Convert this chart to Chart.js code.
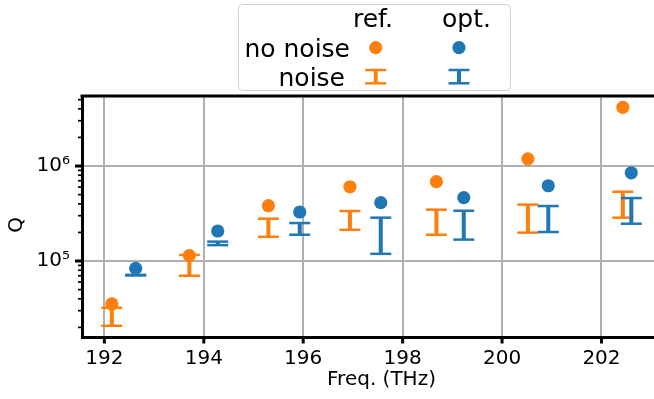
<!DOCTYPE html>
<html>
<head>
<meta charset="utf-8">
<title>Q vs frequency</title>
<script src="https://cdn.jsdelivr.net/npm/chart.js@4"></script>
<style>
  html, body { margin: 0; padding: 0; background: #fff; overflow: hidden; }
  #wrap { width: 654px; height: 399px; overflow: hidden; }
</style>
</head>
<body>
<div id="wrap"><canvas id="qChart" width="700" height="399"></canvas></div>
<script>
// frequencies (THz)
const freqRef = [192.15, 193.71, 195.30, 196.94, 198.68, 200.52, 202.43];
const freqOpt = [192.63, 194.28, 195.93, 197.56, 199.23, 200.93, 202.60];

// Q without noise
const qRefNoNoise = [3.53e4, 1.14e5, 3.82e5, 6.05e5, 6.84e5, 1.19e6, 4.15e6];
const qOptNoNoise = [8.38e4, 2.07e5, 3.28e5, 4.11e5, 4.64e5, 6.2e5, 8.49e5];

// Q with noise (low / high ends of the error bars)
const qRefNoiseLow  = [2.08e4, 7.0e4, 1.8e5, 2.13e5, 1.89e5, 1.99e5, 2.86e5];
const qRefNoiseHigh = [3.22e4, 1.16e5, 2.79e5, 3.36e5, 3.47e5, 3.92e5, 5.36e5];
const qOptNoiseLow  = [7.05e4, 1.47e5, 1.89e5, 1.19e5, 1.68e5, 2.02e5, 2.47e5];
const qOptNoiseHigh = [7.15e4, 1.6e5, 2.51e5, 2.86e5, 3.38e5, 3.79e5, 4.6e5];

// axes
const xTicks = [192, 194, 196, 198, 200, 202];
const yMajor = [1e5, 1e6];
const yTickLabels = ['10⁵', '10⁶'];

const ORANGE = '#ff7f0e';
const BLUE = '#1f77b4';
const GRID = '#b0b0b0';

Chart.defaults.font.family = '"DejaVu Sans", sans-serif';
Chart.defaults.color = '#000';

// vertical part of the error bars, broken by null points
function stems(xs, lo, hi) {
  const pts = [];
  xs.forEach((x, i) => {
    pts.push({ x: x, y: lo[i] }, { x: x, y: hi[i] }, { x: x, y: null });
  });
  return pts;
}

// caps of the error bars
function caps(xs, lo, hi) {
  const pts = [];
  xs.forEach((x, i) => {
    pts.push({ x: x, y: lo[i] }, { x: x, y: hi[i] });
  });
  return pts;
}

function line(ctx, x1, y1, x2, y2) {
  ctx.beginPath();
  ctx.moveTo(x1, y1);
  ctx.lineTo(x2, y2);
  ctx.stroke();
}

// top spine, tick marks, y label and the table legend
const decorPlugin = {
  id: 'decor',
  afterDraw(chart) {
    const { ctx, chartArea: a, scales } = chart;
    const x = scales.x, y = scales.y;
    ctx.save();
    ctx.strokeStyle = '#000';
    ctx.lineCap = 'butt';

    ctx.lineWidth = 3;
    line(ctx, a.left - 1.5, a.top, a.right, a.top);

    xTicks.forEach(v => {
      const px = x.getPixelForValue(v);
      line(ctx, px, a.bottom, px, a.bottom + 6.5);
    });

    y.ticks.forEach(t => {
      const py = y.getPixelForValue(t.value);
      if (py < a.top + 1 || py > a.bottom - 1) return;
      const major = yMajor.includes(t.value);
      ctx.lineWidth = major ? 3 : 1.7;
      line(ctx, a.left - (major ? 7 : 4), py, a.left, py);
    });

    // y axis label
    ctx.fillStyle = '#000';
    ctx.font = '20px "DejaVu Sans"';
    ctx.save();
    ctx.translate(17, 225);
    ctx.rotate(-Math.PI / 2);
    ctx.textAlign = 'center';
    ctx.textBaseline = 'middle';
    ctx.fillText('Q', 0, 0);
    ctx.restore();

    // legend
    ctx.fillStyle = 'rgba(255,255,255,0.8)';
    ctx.strokeStyle = '#d0d0d0';
    ctx.lineWidth = 1;
    ctx.beginPath();
    ctx.roundRect(238.5, 4.5, 272, 86, 4);
    ctx.fill();
    ctx.stroke();

    ctx.fillStyle = '#000';
    ctx.font = '25px "DejaVu Sans"';
    ctx.textBaseline = 'alphabetic';
    ctx.textAlign = 'left';
    ctx.fillText('ref.', 353, 27);
    ctx.fillText('opt.', 442, 27);
    ctx.textAlign = 'right';
    ctx.fillText('no noise', 350, 57);
    ctx.fillText('noise', 345, 86);

    [[375.7, ORANGE], [459, BLUE]].forEach(([cx, col]) => {
      ctx.fillStyle = col;
      ctx.beginPath();
      ctx.arc(cx, 47.7, 6.6, 0, Math.PI * 2);
      ctx.fill();
      ctx.strokeStyle = col;
      ctx.lineWidth = 4;
      line(ctx, cx, 70, cx, 83.3);
      ctx.lineWidth = 2.5;
      line(ctx, cx - 10.5, 70, cx + 10.5, 70);
      line(ctx, cx - 10.5, 83.3, cx + 10.5, 83.3);
    });

    ctx.restore();
  }
};

const ctx = document.getElementById('qChart').getContext('2d');
new Chart(ctx, {
  type: 'scatter',
  data: {
    datasets: [
      {
        label: 'opt. no noise',
        data: freqOpt.map((f, i) => ({ x: f, y: qOptNoNoise[i] })),
        backgroundColor: BLUE,
        borderWidth: 0,
        pointRadius: 6.6,
        order: 0
      },
      {
        label: 'ref. no noise',
        data: freqRef.map((f, i) => ({ x: f, y: qRefNoNoise[i] })),
        backgroundColor: ORANGE,
        borderWidth: 0,
        pointRadius: 6.6,
        order: 1
      },
      {
        label: 'opt. noise caps',
        data: caps(freqOpt, qOptNoiseLow, qOptNoiseHigh),
        pointStyle: 'line',
        pointRadius: 10.5,
        borderColor: BLUE,
        borderWidth: 2.5,
        order: 2
      },
      {
        label: 'opt. noise',
        data: stems(freqOpt, qOptNoiseLow, qOptNoiseHigh),
        showLine: true,
        spanGaps: false,
        pointRadius: 0,
        borderColor: BLUE,
        borderWidth: 4,
        order: 3
      },
      {
        label: 'ref. noise caps',
        data: caps(freqRef, qRefNoiseLow, qRefNoiseHigh),
        pointStyle: 'line',
        pointRadius: 10.5,
        borderColor: ORANGE,
        borderWidth: 2.5,
        order: 4
      },
      {
        label: 'ref. noise',
        data: stems(freqRef, qRefNoiseLow, qRefNoiseHigh),
        showLine: true,
        spanGaps: false,
        pointRadius: 0,
        borderColor: ORANGE,
        borderWidth: 4,
        order: 5
      }
    ]
  },
  options: {
    responsive: false,
    animation: false,
    events: [],
    layout: { padding: { top: 96, right: 19, left: 0, bottom: 0 } },
    plugins: {
      legend: { display: false },
      tooltip: { enabled: false }
    },
    scales: {
      x: {
        type: 'linear',
        min: 191.55,
        max: 203.6,
        afterBuildTicks: (scale) => { scale.ticks = xTicks.map(v => ({ value: v })); },
        afterFit: (scale) => { scale.height = 62; },
        grid: { color: GRID, lineWidth: 2, drawTicks: false },
        border: { display: true, color: '#000', width: 3 },
        ticks: { font: { size: 20 }, padding: 10, maxRotation: 0 },
        title: {
          display: true,
          text: 'Freq. (THz)',
          font: { size: 20 },
          padding: { top: 0, bottom: 7 }
        }
      },
      y: {
        type: 'logarithmic',
        min: 1.585e4,
        max: 5.46e6,
        afterBuildTicks: (scale) => {
          const list = [];
          [4, 5, 6].forEach(e => {
            [1, 2, 3, 4, 5, 6, 7, 8, 9].forEach(m => {
              const v = m * Math.pow(10, e);
              if (v >= scale.min && v <= scale.max) list.push({ value: v });
            });
          });
          scale.ticks = list;
        },
        afterFit: (scale) => { scale.width = 82; },
        grid: {
          color: (c) => (c.tick && yMajor.includes(c.tick.value)) ? GRID : 'rgba(0,0,0,0)',
          lineWidth: 2,
          drawTicks: false
        },
        border: { display: true, color: '#000', width: 3 },
        ticks: {
          autoSkip: false,
          font: { size: 20 },
          padding: 12,
          callback: (v) => {
            const i = yMajor.indexOf(v);
            return i >= 0 ? yTickLabels[i] : '';
          }
        }
      }
    }
  },
  plugins: [decorPlugin]
});
</script>
</body>
</html>
